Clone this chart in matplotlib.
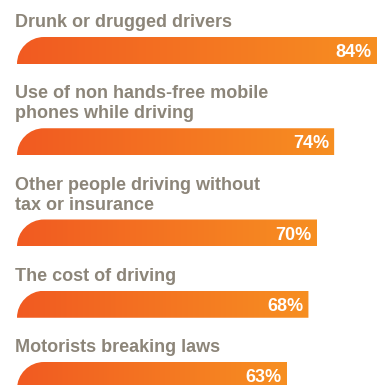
import matplotlib.pyplot as plt
import numpy as np
from matplotlib.path import Path
from matplotlib.patches import PathPatch
from matplotlib.colors import LinearSegmentedColormap

labels = ["Drunk or drugged drivers",
          "Use of non hands-free mobile\nphones while driving",
          "Other people driving without\ntax or insurance",
          "The cost of driving",
          "Motorists breaking laws"]
values = [84, 74, 70, 68, 63]

W, H = 378, 385
px = 360 / 84          # pixels per percent
x0 = 17                # left edge of bars, px

grad = LinearSegmentedColormap.from_list("og", ["#f15a22", "#f78f21"])
grey = "#8c8579"

fig = plt.figure(figsize=(W / 100, H / 100), dpi=100)
ax = fig.add_axes([0, 0, 1, 1])
ax.set_xlim(-x0 / px, (W - x0) / px)
ax.set_ylim(H, 0)
ax.axis("off")

bar_h = 27
line_h = 20
k = 0.5523
rx = bar_h / px  # corner radius in data units

y = 27  # first baseline
for lab, v in zip(labels, values):
    lines = lab.split("\n")
    for i, ln in enumerate(lines):
        ax.text(-0.5, y + i * line_h, ln, ha="left", va="baseline",
                fontsize=13, fontweight="bold", color=grey,
                family="Liberation Sans")
    top = y + (len(lines) - 1) * line_h + 10
    bot = top + bar_h

    verts = [(0, bot), (v, bot), (v, top), (rx, top),
             (rx * (1 - k), top), (0, bot - k * bar_h), (0, bot), (0, bot)]
    codes = [Path.MOVETO, Path.LINETO, Path.LINETO, Path.LINETO,
             Path.CURVE4, Path.CURVE4, Path.CURVE4, Path.CLOSEPOLY]
    patch = PathPatch(Path(verts, codes), facecolor="none", edgecolor="none")
    ax.add_patch(patch)
    im = ax.imshow(np.linspace(0, 1, 256).reshape(1, -1), cmap=grad,
                   aspect="auto", extent=(0, v, bot, top), interpolation="bilinear")
    im.set_clip_path(patch)

    ax.text(v - 5 / px, top + 20, f"{v}%", ha="right", va="baseline",
            fontsize=13, fontweight="bold", color="white",
            family="Liberation Sans")

    y = bot + 34.25

ax.set_xlim(-x0 / px, (W - x0) / px)
ax.set_ylim(H, 0)
fig.savefig("out.png", dpi=100)
